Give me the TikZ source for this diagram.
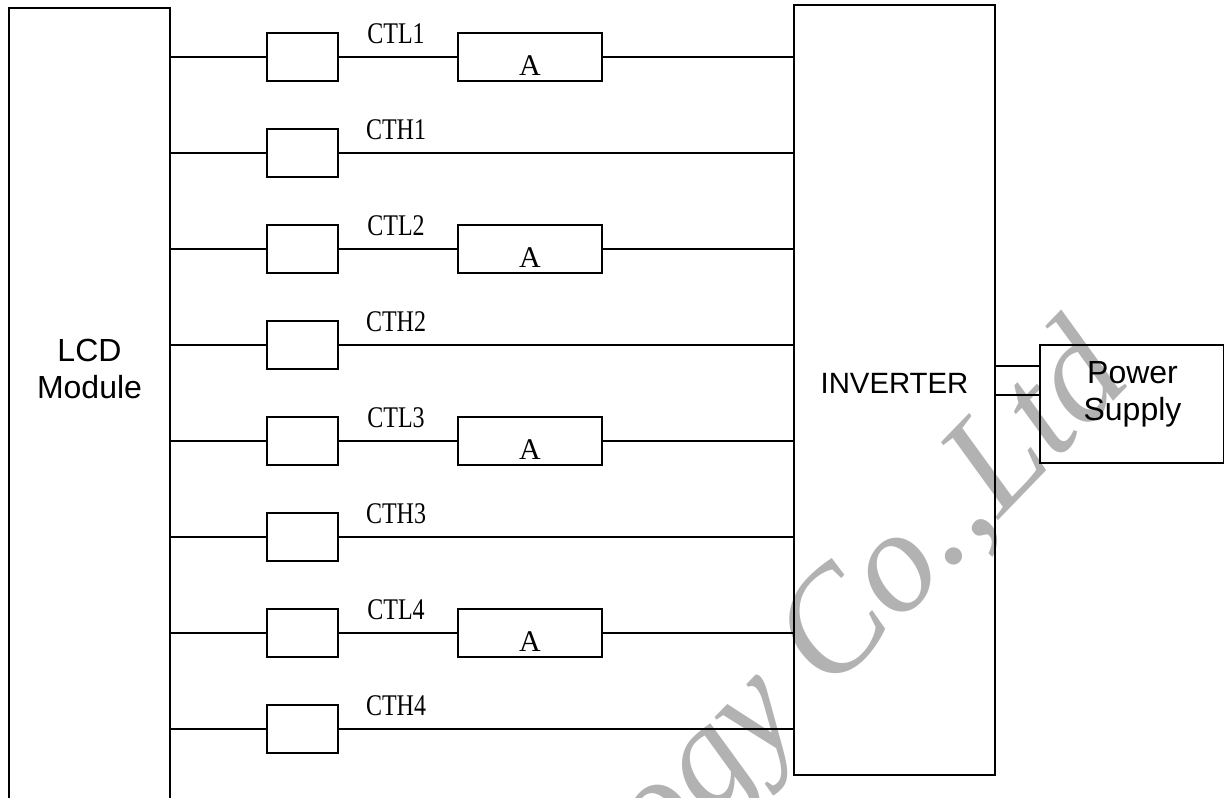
\documentclass[tikz,border=0pt]{standalone}
\usepackage{fontspec}
\setmainfont{Liberation Sans}
\newfontfamily\serifface{Liberation Serif}
\begin{document}
\begin{tikzpicture}[x=0.75pt,y=-0.75pt,
  ln/.style={line width=1.5pt,line cap=butt},
  sanslabel/.style={inner sep=0pt,align=center,font=\fontsize{24}{28}\selectfont},
  invlabel/.style={inner sep=0pt,align=center,font=\fontsize{22}{26}\selectfont},
  ctlabel/.style={inner sep=0pt,font=\serifface\fontsize{22.5}{27}\selectfont},
  watermark/.style={inner sep=0pt,text=black!30,rotate=46,anchor=base east,font=\serifface\itshape\fontsize{109}{115}\selectfont}]
\useasboundingbox (0,0) rectangle (1224,798);
\begin{scope}
\clip (0,0) rectangle (1224,798);
\node[watermark] (wm) at (1134,380) {ogy Co.,Ltd};
\end{scope}
% main blocks
\node[inner sep=0pt,minimum width=120.75pt,minimum height=592.5pt] (lcd) at (89.5,403.5) {};
\draw[ln] (lcd.south west) -- (lcd.north west) -- (lcd.north east) -- (lcd.south east);
\node[sanslabel] (lcdt) at (89.5,369) {LCD\\Module};
\node[draw,line width=1.5pt,inner sep=0pt,minimum width=150.75pt,minimum height=577.5pt] (inv) at (894.5,390) {};
\node[invlabel] (invt) at (894.5,383) {INVERTER};
\node[draw,line width=1.5pt,inner sep=0pt,minimum width=138pt,minimum height=88.5pt] (pwr) at (1132,404) {};
\node[sanslabel] (pwrt) at (1132.5,394) {Power\\Supply};
\coordinate (pa) at (pwr.west |- 0,366.5);
\coordinate (pb) at (pwr.west |- 0,395);
\draw[ln] (pa) -- (inv.east |- pa);
\draw[ln] (pb) -- (inv.east |- pb);
% channels
\foreach \n/\y/\name in {1/57/CTL1,3/249/CTL2,5/441/CTL3,7/633/CTL4}{
  \node[draw,line width=1.5pt,inner sep=0pt,minimum width=53.25pt,minimum height=36pt] (s\n) at (302.5,\y) {};
  \node[draw,line width=1.5pt,inner sep=0pt,minimum width=108pt,minimum height=36pt] (a\n) at (530,\y) {};
  \node[ctlabel] (l\n) at (396,\y-23) {\scalebox{0.8}[1]{\name}};
  \node[ctlabel] (at\n) at (530,\y+9) {A};
  \draw[ln] (lcd.east |- s\n.west) -- (s\n.west);
  \draw[ln] (s\n.east) -- (a\n.west);
  \draw[ln] (a\n.east) -- (inv.west |- a\n.east);
}
\foreach \n/\y/\name in {2/153/CTH1,4/345/CTH2,6/537/CTH3,8/729/CTH4}{
  \node[draw,line width=1.5pt,inner sep=0pt,minimum width=53.25pt,minimum height=36pt] (s\n) at (302.5,\y) {};
  \node[ctlabel] (l\n) at (396,\y-23) {\scalebox{0.8}[1]{\name}};
  \draw[ln] (lcd.east |- s\n.west) -- (s\n.west);
  \draw[ln] (s\n.east) -- (inv.west |- s\n.east);
}
\end{tikzpicture}
\end{document}
